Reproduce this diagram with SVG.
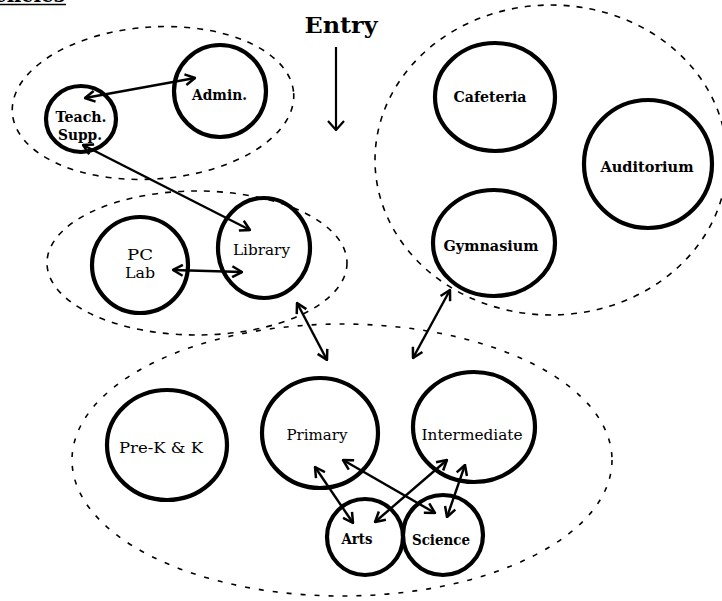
<svg xmlns="http://www.w3.org/2000/svg" width="722" height="601" viewBox="0 0 722 601">
  <style>
    .room { fill: none; stroke: #000; stroke-width: 4.2; }
    .zone { fill: none; stroke: #000; stroke-width: 1.6; stroke-dasharray: 6 7; }
    .zone.sparse { stroke-dasharray: 5 9; }
    .link { fill: none; stroke: #000; stroke-width: 2.4; marker-start: url(#head); marker-end: url(#head); }
    .lbl { font-family: "DejaVu Serif", "Liberation Serif", serif; font-size: 15.5px; text-anchor: middle; fill: #000; }
    .b { font-weight: bold; }
  </style>
  <defs>
    <marker id="head" viewBox="0 0 12 12" refX="11" refY="6" markerWidth="13" markerHeight="13" markerUnits="userSpaceOnUse" orient="auto-start-reverse">
      <path d="M2,1 L11,6 L2,11" fill="none" stroke="#000" stroke-width="2.3"/>
    </marker>
    <marker id="head1" viewBox="0 0 14 18" refX="13" refY="9" markerWidth="14" markerHeight="18" markerUnits="userSpaceOnUse" orient="auto">
      <path d="M4,1 L13,9 L4,17" fill="none" stroke="#000" stroke-width="2.2"/>
    </marker>
  </defs>

  <!-- page heading, cut off by the top edge -->
  <g id="heading">
    <text x="65" y="2" font-family="DejaVu Serif, serif" font-size="20" font-weight="bold" text-anchor="end">Adjacencies</text>
    <line x1="0" y1="4.5" x2="66" y2="4.5" stroke="#000" stroke-width="1.6"/>
  </g>

  <!-- dashed zones -->
  <g id="zones">
    <ellipse class="zone" cx="153" cy="103" rx="141" ry="76" transform="rotate(-4 153 103)"/>
    <ellipse class="zone" cx="197" cy="263" rx="150" ry="72"/>
    <ellipse class="zone" cx="551" cy="160" rx="176" ry="155"/>
    <ellipse class="zone sparse" cx="342" cy="460" rx="270" ry="136"/>
  </g>

  <!-- entry -->
  <g id="entry">
    <text x="341" y="33" font-family="DejaVu Serif, serif" font-size="23" font-weight="bold" text-anchor="middle" textLength="73" lengthAdjust="spacingAndGlyphs">Entry</text>
    <line x1="336" y1="47" x2="336" y2="130" stroke="#000" stroke-width="2.2" marker-end="url(#head1)"/>
  </g>

  <g id="teach-supp">
    <ellipse class="room" cx="81" cy="119" rx="35" ry="33"/>
    <text class="lbl b" x="81" y="122" textLength="51" lengthAdjust="spacingAndGlyphs">Teach.</text>
    <text class="lbl b" x="80" y="140" textLength="44" lengthAdjust="spacingAndGlyphs">Supp.</text>
  </g>
  <g id="admin">
    <circle class="room" cx="220" cy="91" r="46"/>
    <text class="lbl b" x="219.5" y="100" textLength="55" lengthAdjust="spacingAndGlyphs">Admin.</text>
  </g>
  <g id="pc-lab">
    <circle class="room" cx="140" cy="265" r="48"/>
    <text class="lbl" x="140" y="260" textLength="26" lengthAdjust="spacingAndGlyphs">PC</text>
    <text class="lbl" x="140" y="278" textLength="30" lengthAdjust="spacingAndGlyphs">Lab</text>
  </g>
  <g id="library">
    <ellipse class="room" cx="264" cy="248" rx="46" ry="50"/>
    <text class="lbl" x="261.5" y="255" textLength="57" lengthAdjust="spacingAndGlyphs">Library</text>
  </g>
  <g id="cafeteria">
    <ellipse class="room" cx="495" cy="97" rx="60" ry="54"/>
    <text class="lbl b" x="490" y="102" textLength="73" lengthAdjust="spacingAndGlyphs">Cafeteria</text>
  </g>
  <g id="auditorium">
    <circle class="room" cx="648" cy="164" r="64"/>
    <text class="lbl b" x="647" y="172" textLength="93" lengthAdjust="spacingAndGlyphs">Auditorium</text>
  </g>
  <g id="gymnasium">
    <ellipse class="room" cx="494" cy="243" rx="61" ry="53"/>
    <text class="lbl b" x="491" y="251" textLength="95" lengthAdjust="spacingAndGlyphs">Gymnasium</text>
  </g>
  <g id="pre-k">
    <ellipse class="room" cx="167" cy="445" rx="60" ry="55"/>
    <text class="lbl" x="161" y="453" textLength="84" lengthAdjust="spacingAndGlyphs">Pre-K &amp; K</text>
  </g>
  <g id="primary">
    <ellipse class="room" cx="320" cy="433" rx="58" ry="55"/>
    <text class="lbl" x="317" y="440" textLength="61" lengthAdjust="spacingAndGlyphs">Primary</text>
  </g>
  <g id="intermediate">
    <ellipse class="room" cx="474" cy="427" rx="61" ry="55"/>
    <text class="lbl" x="472" y="440" textLength="101" lengthAdjust="spacingAndGlyphs">Intermediate</text>
  </g>
  <g id="arts">
    <circle class="room" cx="365" cy="537" r="38"/>
    <text class="lbl b" x="357" y="544" textLength="31" lengthAdjust="spacingAndGlyphs">Arts</text>
  </g>
  <g id="science">
    <circle class="room" cx="443" cy="535" r="40"/>
    <text class="lbl b" x="441" y="545" textLength="58" lengthAdjust="spacingAndGlyphs">Science</text>
  </g>

  <!-- two-way adjacencies -->
  <g id="connectors">
    <line class="link" x1="85" y1="98" x2="195" y2="78"/>
    <line class="link" x1="83" y1="145" x2="250" y2="230"/>
    <line class="link" x1="173" y1="270" x2="242" y2="272"/>
    <line class="link" x1="297" y1="303" x2="327" y2="360"/>
    <line class="link" x1="450" y1="290" x2="413" y2="358"/>
    <line class="link" x1="315" y1="467" x2="353" y2="523"/>
    <line class="link" x1="343" y1="460" x2="435" y2="513"/>
    <line class="link" x1="447" y1="460" x2="375" y2="522"/>
    <line class="link" x1="465" y1="465" x2="447" y2="517"/>
  </g>
</svg>
